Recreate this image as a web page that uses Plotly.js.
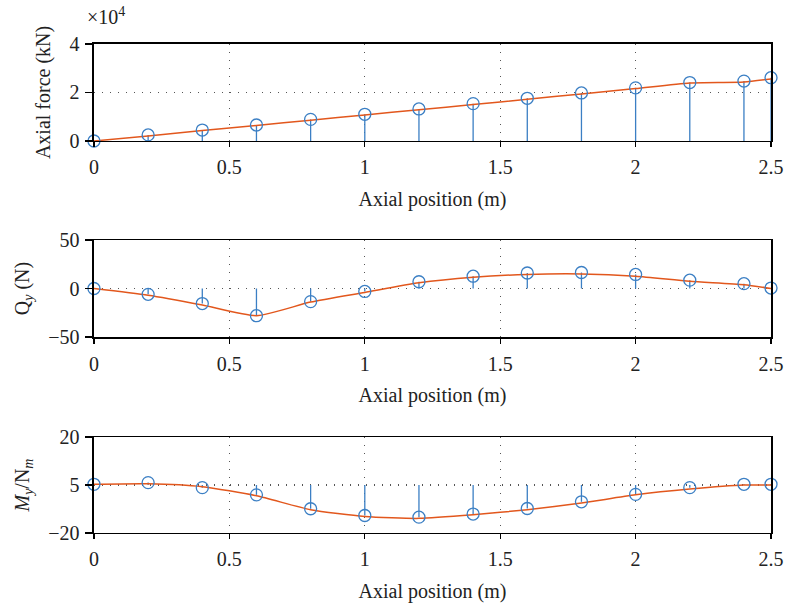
<!DOCTYPE html>
<html>
<head>
<meta charset="utf-8">
<script src="https://cdn.plot.ly/plotly-3.0.1.min.js"></script>
<style>html,body{margin:0;padding:0;background:#fff}#chart{width:785px;height:609px}</style>
</head>
<body>
<div id="chart"></div>
<script>
// Axial positions (m)
const positions = [0, 0.2, 0.4, 0.6, 0.8, 1.0, 1.2, 1.4, 1.6, 1.8, 2.0, 2.2, 2.4, 2.5];

// Axial force (×10^4 kN): stem values and fitted line
const axialStem = [0, 0.25, 0.45, 0.66, 0.89, 1.1, 1.32, 1.54, 1.76, 1.98, 2.19, 2.41, 2.47, 2.61];
const axialLine = [0, 0.21, 0.43, 0.64, 0.86, 1.07, 1.29, 1.5, 1.72, 1.94, 2.16, 2.39, 2.43, 2.56];

// Qy (N)
const qyStem = [0, -6, -15.5, -28, -13.5, -3, 7, 12.7, 16, 16.5, 14.5, 8.6, 5, 0.5];
const qyLine = [0, -7, -17, -28, -14, -4, 6, 11.7, 14.5, 15, 12.7, 7.5, 4, 0];

// My/Nm (axis units; middle gridline labelled "5")
const myStem = [0.3, 1, -1.1, -4.1, -9.9, -12.7, -13.4, -12.1, -9.8, -7, -3.9, -1.1, 0.3, 0.3];
const myLine = [0.3, 0.5, -0.7, -4.5, -10.3, -13.1, -13.9, -12.4, -10.3, -7.5, -4.1, -1.7, 0, 0];

// Tick labels
const xTicks = [0, 0.5, 1, 1.5, 2, 2.5];
const xTickText = ["0", "0.5", "1", "1.5", "2", "2.5"];
const axialTicks = [0, 2, 4];
const qyTicks = [-50, 0, 50];
const qyTickText = ["\u221250", "0", "50"];
const myTicks = [-20, 0, 20];
const myTickText = ["\u221220", "5", "20"];

const blue = "#3b7fc4";
const orange = "#e2571d";

function stemXY(xs, ys, base) {
  const sx = [], sy = [];
  xs.forEach((x, i) => { sx.push(x, x, null); sy.push(base, ys[i], null); });
  return [sx, sy];
}

const traces = [];
[[axialStem, axialLine, "x", "y"], [qyStem, qyLine, "x2", "y2"], [myStem, myLine, "x3", "y3"]].forEach(([st, ln, xa, ya]) => {
  const [sx, sy] = stemXY(positions, st, 0);
  traces.push({x: sx, y: sy, xaxis: xa, yaxis: ya, mode: "lines", line: {color: blue, width: 1.3}, hoverinfo: "skip", showlegend: false, cliponaxis: false});
  traces.push({x: positions, y: ln, xaxis: xa, yaxis: ya, mode: "lines", line: {color: orange, width: 1.5, shape: "spline", smoothing: 0.6}, showlegend: false, cliponaxis: false});
  traces.push({x: positions, y: st, xaxis: xa, yaxis: ya, mode: "markers", cliponaxis: false, marker: {symbol: "circle-open", size: 12, color: blue, line: {width: 1.3, color: blue}}, showlegend: false});
});

const font = {family: "Liberation Serif, Times New Roman, serif", size: 20, color: "#222"};

function xax(anchor) {
  return {
    domain: [0.1197, 0.9822], range: [0, 2.5], anchor: anchor,
    tickvals: xTicks, ticktext: xTickText, ticks: "outside", ticklen: 5, tickwidth: 1.2, tickcolor: "#000",
    ticklabelstandoff: 3,
    showline: true, mirror: true, linecolor: "#000", linewidth: 1.5,
    showgrid: true, gridcolor: "#555", griddash: "1px,7px", gridwidth: 1.2,
    zeroline: false, tickfont: font,
    title: {text: "Axial position (m)", font: font, standoff: 14}
  };
}
function yax(domain, range, vals, text, title, anchor) {
  return {
    domain: domain, range: range, anchor: anchor,
    tickvals: vals, ticktext: text, ticks: "outside", ticklen: 7, tickwidth: 1.2, tickcolor: "#000",
    ticklabelstandoff: 2,
    showline: true, mirror: true, linecolor: "#000", linewidth: 1.5,
    showgrid: true, gridcolor: "#555", griddash: "1px,7px", gridwidth: 1.2,
    zeroline: false, tickfont: font,
    title: {text: title, font: font, standoff: 13}
  };
}

const layout = {
  width: 785, height: 609,
  margin: {l: 0, r: 0, t: 0, b: 0},
  paper_bgcolor: "#fff", plot_bgcolor: "#fff",
  font: font,
  xaxis: xax("y"),
  yaxis: yax([0.7685, 0.9278], [0, 4], axialTicks, ["0", "2", "4"], "Axial force (kN)", "x"),
  xaxis2: xax("y2"),
  yaxis2: yax([0.4466, 0.6059], [-50, 50], qyTicks, qyTickText, "Q<sub><i>y</i></sub> (N)", "x2"),
  xaxis3: xax("y3"),
  yaxis3: yax([0.1248, 0.2824], [-20, 20], myTicks, myTickText, "<i>M</i><sub><i>y</i></sub>/N<sub><i>m</i></sub>", "x3"),
  annotations: [{
    text: "\u00d710<sup>4</sup>", xref: "paper", yref: "paper", x: 85 / 785, y: 1 - 16 / 609,
    xanchor: "left", yanchor: "middle", showarrow: false, font: font
  }]
};

Plotly.newPlot("chart", traces, layout, {displayModeBar: false, staticPlot: true});
</script>
</body>
</html>
